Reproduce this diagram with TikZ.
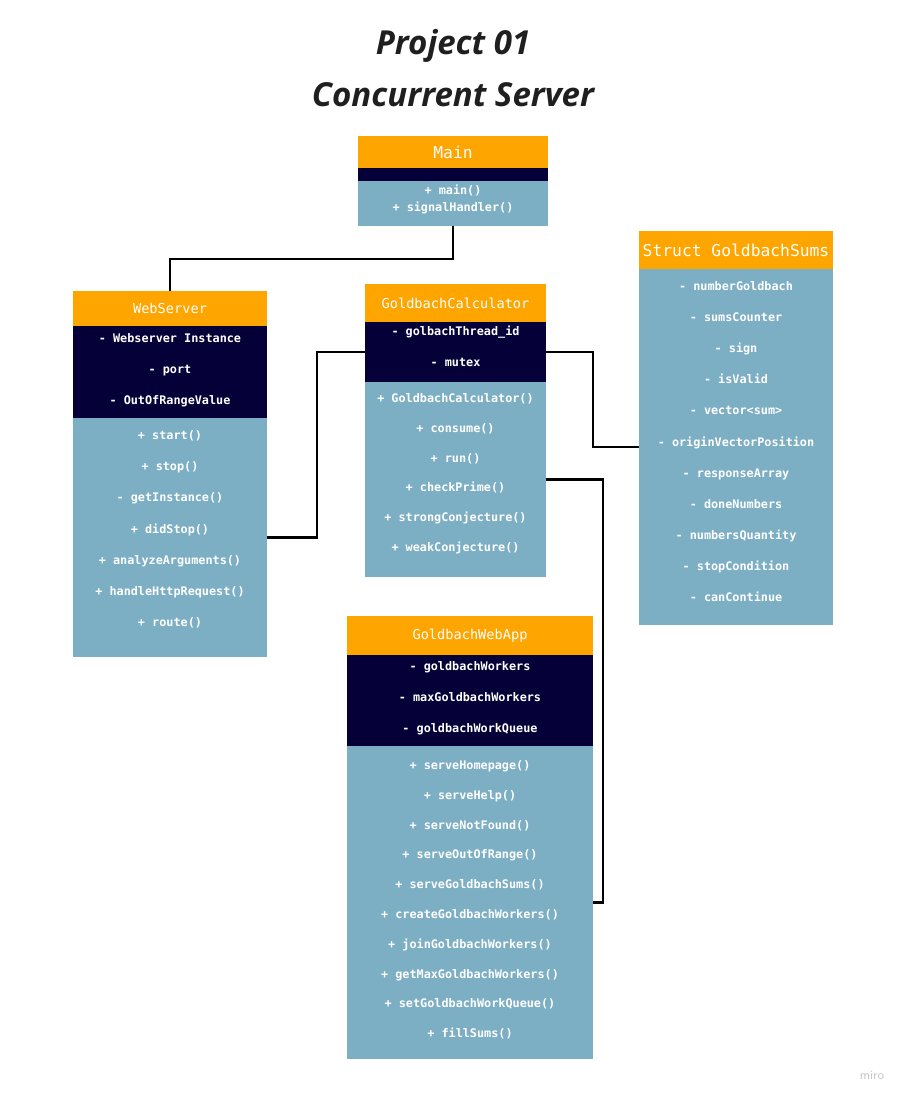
\documentclass[tikz,border=0pt]{standalone}
\usepackage{fontspec}
\setmainfont{Open Sans}
\setmonofont{DejaVu Sans Mono}
\usetikzlibrary{positioning}
\definecolor{umlOrange}{HTML}{FFA500}
\definecolor{umlNavy}{HTML}{050038}
\definecolor{umlBlue}{HTML}{7CAEC4}
\definecolor{ink}{HTML}{1F1F1F}

\begin{document}
\begin{tikzpicture}[x=0.025cm,y=-0.025cm,
  size/.style 2 args={minimum width=#1*0.25mm,minimum height=#2*0.25mm},
  part/.style={anchor=north west,inner sep=0pt,outer sep=0pt},
  head/.style={part,fill=umlOrange,text=white,font=\ttfamily\fontsize{9.7}{11}\selectfont},
  bighead/.style={head,font=\ttfamily\fontsize{11.6}{13}\selectfont},
  attrs/.style={part,fill=umlNavy},
  ops/.style={part,fill=umlBlue},
  row/.style={text=white,inner sep=0pt,text height=1.55ex,text depth=0.35ex,
    font=\ttfamily\bfseries\fontsize{8.4}{10}\selectfont},
  title/.style={text=ink,font=\bfseries\itshape\fontsize{23.5}{28}\selectfont},
  link/.style={draw=black,line width=1.6pt}]
\useasboundingbox[fill=white] (0,0) rectangle (908,1100);
% title
\node[title] (title1) at (453,46) {Project 01};
\node[title] (title2) at (453,95) {Concurrent Server};
% Main
\node[bighead,size={190}{32}] (mainHead) at (358,136) {Main};
\node[attrs,size={190}{13}] (mainAttrs) at (358,168) {};
\node[ops,size={190}{45}] (mainOps) at (358,181) {};
\node[row] (mainR0) at (453,190) {+ main()};
\node[row] (mainR1) at (453,207) {+ signalHandler()};
% WebServer
\node[head,size={194}{35}] (wsHead) at (73,291) {WebServer};
\node[attrs,size={194}{92}] (wsAttrs) at (73,326) {};
\node[ops,size={194}{239}] (wsOps) at (73,418) {};
\foreach \t [count=\i from 0] in {- Webserver Instance,- port,- OutOfRangeValue}
  \node[row] (wsA\i) at (170,338+31*\i) {\t};
\foreach \t [count=\i from 0] in {+ start(),+ stop(),- getInstance(),+ didStop(),
    + analyzeArguments(),+ handleHttpRequest(),+ route()}
  \node[row] (wsO\i) at (170,435+31.2*\i) {\t};
% GoldbachCalculator
\node[head,size={181}{38}] (calcHead) at (365,284) {GoldbachCalculator};
\node[attrs,size={181}{60}] (calcAttrs) at (365,322) {};
\node[ops,size={181}{195}] (calcOps) at (365,382) {};
\foreach \t [count=\i from 0] in {- golbachThread\_id,- mutex}
  \node[row] (calcA\i) at (455.5,331+31*\i) {\t};
\foreach \t [count=\i from 0] in {+ GoldbachCalculator(),+ consume(),+ run(),
    + checkPrime(),+ strongConjecture(),+ weakConjecture()}
  \node[row] (calcO\i) at (455.5,398+29.8*\i) {\t};
% Struct GoldbachSums
\node[bighead,size={194}{38}] (gsHead) at (639,231) {Struct GoldbachSums};
\node[ops,size={194}{356}] (gsBody) at (639,269) {};
\foreach \t [count=\i from 0] in {- numberGoldbach,- sumsCounter,- sign,- isValid,
    - vector<sum>,- originVectorPosition,- responseArray,- doneNumbers,
    - numbersQuantity,- stopCondition,- canContinue}
  \node[row] (gsR\i) at (736,286+31.1*\i) {\t};
% GoldbachWebApp
\node[head,size={246}{39}] (wappHead) at (347,616) {GoldbachWebApp};
\node[attrs,size={246}{91}] (wappAttrs) at (347,655) {};
\node[ops,size={246}{313}] (wappOps) at (347,746) {};
\foreach \t [count=\i from 0] in {- goldbachWorkers,- maxGoldbachWorkers,- goldbachWorkQueue}
  \node[row] (wappA\i) at (470,666+31*\i) {\t};
\foreach \t [count=\i from 0] in {+ serveHomepage(),+ serveHelp(),+ serveNotFound(),
    + serveOutOfRange(),+ serveGoldbachSums(),+ createGoldbachWorkers(),
    + joinGoldbachWorkers(),+ getMaxGoldbachWorkers(),+ setGoldbachWorkQueue(),+ fillSums()}
  \node[row] (wappO\i) at (470,765+29.8*\i) {\t};
% connectors
\draw[link] (mainOps.south) -- ++(0,33) -| (wsHead.north);
\draw[link] (wsOps.east) -- ++(50,0) |- (calcAttrs.west);
\draw[link] (calcAttrs.east) -- ++(47,0) |- (gsBody.west);
\draw[link] (calcOps.east) -- ++(57,0) |- (wappOps.east);
% watermark
\node[text=black!22,font=\sffamily\fontsize{9}{10}\selectfont] (brand) at (872,1075) {miro};
\end{tikzpicture}
\end{document}
